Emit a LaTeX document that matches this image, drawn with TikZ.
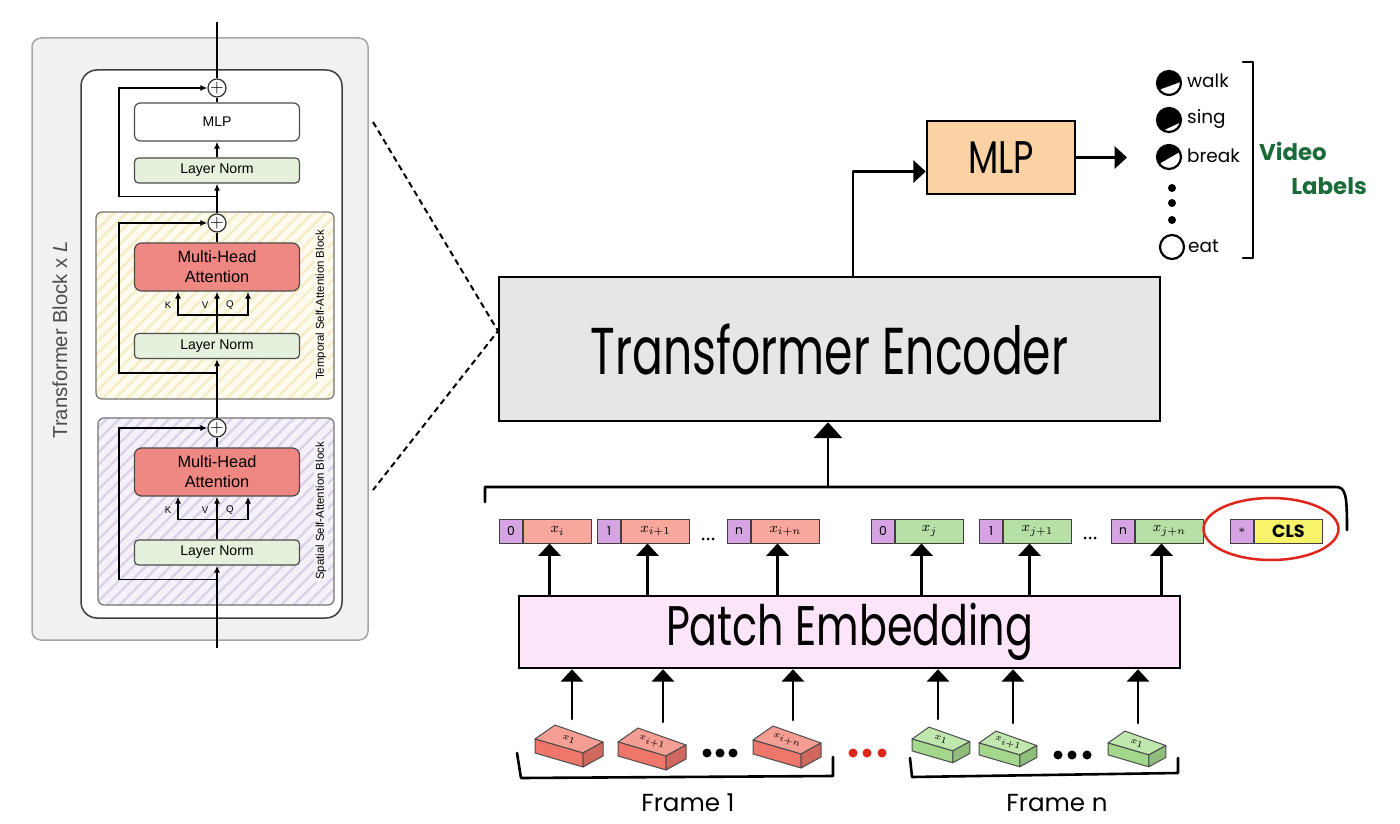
\documentclass[tikz,border=0pt]{standalone}
\usepackage{fontspec}
\setmainfont{Liberation Sans}
\newfontfamily\handfont{Poppins}
\usetikzlibrary{arrows.meta,calc,positioning,patterns.meta,shapes.geometric}
\newdimen\px
\px=0.02cm
\newcommand{\hand}[3]{{\handfont\fontsize{#1}{#1}\selectfont\scalebox{1}[#2]{#3}}}
\definecolor{panelgray}{HTML}{F1F1F1}
\definecolor{lngreen}{HTML}{E5F1DC}
\definecolor{mhared}{HTML}{EF8882}
\definecolor{tbg}{HTML}{FDFAEE}
\definecolor{thatch}{HTML}{F5ECC4}
\definecolor{sbg}{HTML}{F5F1F8}
\definecolor{shatch}{HTML}{DCD1E8}
\definecolor{encgray}{HTML}{E6E6E6}
\definecolor{mlporange}{HTML}{FAD2A3}
\definecolor{pepink}{HTML}{FCE5F8}
\definecolor{tokpurple}{HTML}{D6A3E3}
\definecolor{tokred}{HTML}{F7A79B}
\definecolor{tokgreen}{HTML}{B7E0A7}
\definecolor{tokyellow}{HTML}{F7F46C}
\definecolor{cubered}{HTML}{F49E94}
\definecolor{cubereddark}{HTML}{EE766B}
\definecolor{cubegreen}{HTML}{C0E7AE}
\definecolor{cubegreendark}{HTML}{A2D78C}
\definecolor{labgreen}{HTML}{1B6B3A}
\definecolor{ringred}{HTML}{E0261B}
\tikzset{
  lbox/.style={draw=black!70,line width=1.2\px,rounded corners=4\px,minimum width=165\px,inner sep=0pt,font=\fontsize{8}{9}\selectfont},
  lnorm/.style={lbox,fill=lngreen,minimum height=25\px},
  lmlp/.style={lbox,fill=white,minimum height=38\px,rounded corners=6\px},
  mha/.style={lbox,fill=mhared,minimum height=48\px,rounded corners=7\px,align=center,font=\fontsize{9.3}{11.5}\selectfont},
  oplus/.style={circle,draw=black!80,fill=white,line width=1.2\px,minimum size=18\px,inner sep=0pt},
  lline/.style={line width=1.6\px},
  larrow/.style={lline,-{Latex[length=4pt,width=3.4pt]}},
  blk/.style={draw=black!55,line width=1.2\px,rounded corners=6\px,inner sep=0pt},
  kvq/.style={font=\fontsize{5.5}{6}\selectfont,inner sep=0pt},
  blklab/.style={rotate=90,font=\fontsize{6.5}{7}\selectfont,inner sep=1pt},
  hline/.style={line width=2.6\px,line cap=round,line join=round},
  harrow/.style={hline,-{Triangle[length=7pt,width=12.5pt]}},
  hbox/.style={draw,line width=2.5\px,inner sep=0pt},
  idbox/.style={draw=black!75,line width=1\px,fill=tokpurple,anchor=west,minimum width=23\px,minimum height=24\px,inner sep=0pt,font=\handfont\fontsize{7}{7}\selectfont},
  tokbox/.style={draw=black!75,line width=1\px,anchor=west,minimum width=68\px,minimum height=24\px,inner sep=0pt,font=\fontsize{8}{8}\selectfont},
  cubeline/.style={draw=black!70,line width=1\px,line join=round},
  cubelab/.style={rotate=-16,font=\fontsize{4}{4}\selectfont,inner sep=0pt},
  handlab/.style={font=\handfont\fontsize{14}{14}\selectfont},
  wordlab/.style={anchor=west,inner sep=1pt,font=\handfont\fontsize{10.5}{11}\selectfont},
  lcirc/.style={circle,draw,line width=2.2\px,minimum size=24\px,inner sep=0pt},
  vidlab/.style={text=labgreen,font=\handfont\bfseries\fontsize{13}{13}\selectfont},
  dot/.style={circle,fill,inner sep=0pt,minimum size=9\px},
  dashline/.style={line width=2\px,dash pattern=on 3.4pt off 2.3pt}
}

\begin{document}
\begin{tikzpicture}[x=\px,y=-\px]
\useasboundingbox (0,0) rectangle (1400,824);
\node[blk,fill=panelgray,draw=black!35,line width=1.5\px,rounded corners=9\px,minimum width=336\px,minimum height=602\px] (panel) at (200,339) {};
\node[blk,fill=white,draw=black!75,line width=1.5\px,rounded corners=16\px,minimum width=261\px,minimum height=548\px] (inner) at (211.5,344) {};
\node[blk,preaction={fill=tbg},pattern={Lines[angle=45,distance=5pt,line width=1.3pt]},pattern color=thatch,minimum width=238\px,minimum height=187\px] (tblk) at (215,305.5) {};
\node[blk,preaction={fill=sbg},pattern={Lines[angle=45,distance=5pt,line width=1.3pt]},pattern color=shatch,minimum width=236\px,minimum height=187\px] (sblk) at (216,511.5) {};
\node[blklab,fill=tbg] (tlab) at (321,305) {Temporal Self-Attention Block};
\node[blklab,fill=sbg] (slab) at (321,511) {Spatial Self-Attention Block};
\node[rotate=90,font=\fontsize{11.5}{12}\selectfont,text=black!70] (blab) at (60,340) {Transformer Block x \textit{L}};

\node[oplus] (oplus) at (217,88) {$+$};
\node[lmlp] (lmlp) at (217,122) {MLP};
\node[lnorm] (mln) at (217,170.5) {Layer Norm};
\node[oplus] (tplus) at (217,223) {$+$};
\node[mha] (tmha) at (217,267) {Multi-Head\\Attention};
\node[lnorm] (tln) at (217,346) {Layer Norm};
\node[oplus] (splus) at (217,428) {$+$};
\node[mha] (smha) at (217,472) {Multi-Head\\Attention};
\node[lnorm] (sln) at (217,552.5) {Layer Norm};
\coordinate (lout) at (217,22);
\coordinate (lin) at (217,648);

\draw[lline] (oplus) -- (lout);
\draw[lline] (lmlp) -- (oplus);
\draw[larrow] (mln) -- (lmlp);
\draw[larrow] (tplus) -- (mln);
\draw[larrow] ($(tplus.north)+(0,-17)$) -- ++(-98,0) |- (oplus.west);
\draw[lline] (tmha) -- (tplus);
\draw[larrow] (tln) -- (tmha);
\foreach \dx in {-39,31}
  \draw[larrow] ($(tln.north)+(0,-18)$) -| ($(tmha.south)+(\dx,0)$);
\node[kvq] (tk) at (168,305) {K};
\node[kvq] (tv) at (205,305) {V};
\node[kvq] (tq) at (230,305) {Q};
\draw[larrow] ($(tln.south)+(0,14)$) -- ++(-98,0) |- (tplus.west);
\draw[larrow] (splus) -- (tln);
\draw[lline] (smha) -- (splus);
\draw[larrow] (sln) -- (smha);
\foreach \dx in {-39,31}
  \draw[larrow] ($(sln.north)+(0,-20)$) -| ($(smha.south)+(\dx,0)$);
\node[kvq] (sk) at (168,510) {K};
\node[kvq] (sv) at (205,510) {V};
\node[kvq] (sq) at (230,510) {Q};
\draw[larrow] ($(sln.south)+(0,14)$) -- ++(-98,0) |- (splus.west);
\draw[larrow] (lin) -- (sln);

\coordinate (dz1) at (373,122);
\coordinate (dz2) at (373,490);
\coordinate (encin) at (498,331);
\draw[dashline] (dz1) -- (encin) -- (dz2);

\node[hbox,fill=encgray,minimum width=661\px,minimum height=144\px] (enc) at (829.5,349) {\hand{26}{1.45}{Transformer Encoder}};
\node[hbox,fill=mlporange,minimum width=148\px,minimum height=73\px] (mlp) at (1001,157.5) {\hand{20}{1.3}{MLP}};
\node[hbox,fill=pepink,minimum width=661\px,minimum height=72\px] (pe) at (849.5,632) {\hand{23.5}{1.35}{Patch Embedding}};
\draw[harrow] ($(enc.north)+(23.5,0)$) |- ([yshift=-14\px]mlp.west);
\coordinate (mlpout) at (1127,157.5);
\draw[harrow] (mlp) -- (mlpout);

\foreach \yy/\lev/\ang [count=\k] in {83/3/20,120/7/25,157/1/30}{
  \begin{scope}
    \clip (1169,\yy) circle (12);
    \fill[rotate around={\ang:(1169,\yy)}] (1145,\yy-25) rectangle (1195,\yy+\lev);
  \end{scope}
}
\node[lcirc] (c1) at (1169,83) {};
\node[lcirc] (c2) at (1169,120) {};
\node[lcirc] (c3) at (1169,157) {};
\node[lcirc] (c4) at (1172,247) {};
\node[wordlab] (w1) at (1185,81) {walk};
\node[wordlab] (w2) at (1185,119) {sing};
\node[wordlab] (w3) at (1185,156) {break};
\node[wordlab] (w4) at (1186,246) {eat};
\foreach \yy [count=\k] in {188,203,220}
  \node[dot,minimum size=8\px] (ld\k) at (1172,\yy) {};
\draw[hline] (1243,62) -- (1253,62) -- (1253,258) -- (1243,258);
\node[vidlab] (vid) at (1293,151) {Video};
\node[vidlab] (vlab) at (1329,186) {Labels};

\draw[hline] (485,502) -- (485,487) -- (1336,487) .. controls (1346,487) and (1347,496) .. (1347,530);
\coordinate (brc) at (828,487);
\draw[hline,-{Triangle[length=9pt,width=16pt]}] (brc) -- (brc |- enc.south);

\foreach \xx/\id/\lab/\col [count=\k] in {499/0/x_i/tokred,597/1/x_{i+1}/tokred,727/n/x_{i+n}/tokred,871/0/x_j/tokgreen,979/1/x_{j+1}/tokgreen,1111/n/x_{j+n}/tokgreen}{
  \node[idbox] (id\k) at (\xx,531) {\id};
  \node[tokbox,fill=\col,right=0pt of id\k] (tk\k) {$\lab$};
}
\node[idbox] (id7) at (1230,531) {$\ast$};
\node[tokbox,fill=tokyellow,right=0pt of id7,font=\handfont\bfseries\fontsize{10}{10}\selectfont] (cls) {CLS};
\node[ellipse,draw=ringred,line width=2.5\px,minimum width=135\px,minimum height=62\px] (ring) at (1271,529) {};
\foreach \xx [count=\k] in {703,708,713}
  \node[dot,minimum size=3\px] (ta\k) at (\xx,539) {};
\foreach \xx [count=\k] in {1085,1090,1095}
  \node[dot,minimum size=3\px] (tb\k) at (\xx,538) {};
\foreach \k in {1,...,6}
  \draw[harrow] ([xshift=-8\px]tk\k.south |- pe.north) -- ([xshift=-8\px]tk\k.south);

\foreach \lx/\ly/\sc/\ct/\cf/\lab/\ax [count=\k] in {535/739/1/cubered/cubereddark/x_1/37,618/742/1/cubered/cubereddark/x_{i+1}/45,753/740/1/cubered/cubereddark/x_{i+n}/40,912/739/0.85/cubegreen/cubegreendark/x_1/26,979/743/0.85/cubegreen/cubegreendark/x_{i+1}/34,1108/743/0.85/cubegreen/cubegreendark/x_1/30}{
  \begin{scope}[shift={(\lx,\ly)},scale=\sc]
    \filldraw[cubeline,fill=\ct] (0,0) -- (20,-14) -- (68,3) -- (48,14) -- cycle;
    \filldraw[cubeline,fill=\cf] (0,0) -- (48,14) -- (48,28) -- (0,14) -- cycle;
    \filldraw[cubeline,fill=\cf!88!black] (48,14) -- (68,3) -- (68,17) -- (48,28) -- cycle;
    \node[cubelab] (cl\k) at (34,0.5) {$\lab$};
  \end{scope}
  \coordinate (cb\k) at (\lx+\ax,\ly-20);
}
\foreach \k in {1,...,6}
  \draw[harrow] (cb\k) -- (cb\k |- pe.south);
\foreach \xx [count=\k] in {707,720,733}
  \node[dot] (fa\k) at (\xx,753) {};
\foreach \xx [count=\k] in {853,867,882}
  \node[dot,fill=ringred] (fr\k) at (\xx,753) {};
\foreach \xx [count=\k] in {1058,1072,1087}
  \node[dot] (fb\k) at (\xx,755) {};
\draw[hline] (517,753) -- (521,778) -- (833,776) -- (833,757);
\draw[hline] (910,758) -- (912,777) -- (1178,773) -- (1178,758);
\node[handlab] (f1) at (688,803) {Frame 1};
\node[handlab] (fn) at (1057,803) {Frame n};
\end{tikzpicture}
\end{document}
